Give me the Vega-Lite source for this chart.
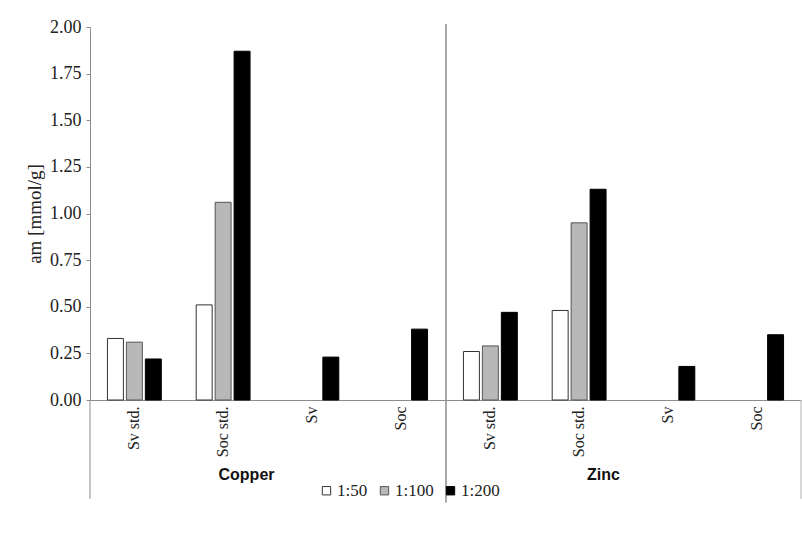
{
  "$schema": "https://vega.github.io/schema/vega-lite/v6.json",
  "background": "white",
  "padding": {"left": 25, "top": 18, "right": 0, "bottom": 0},
  "config": {
    "view": {"stroke": null},
    "font": "Liberation Serif",
    "concat": {"spacing": 0}
  },
  "data": {
    "values": [
      {"metal": "Copper", "sample": "Sv std.", "ratio": "1:50", "value": 0.33},
      {"metal": "Copper", "sample": "Sv std.", "ratio": "1:100", "value": 0.31},
      {"metal": "Copper", "sample": "Sv std.", "ratio": "1:200", "value": 0.22},
      {"metal": "Copper", "sample": "Soc std.", "ratio": "1:50", "value": 0.51},
      {"metal": "Copper", "sample": "Soc std.", "ratio": "1:100", "value": 1.06},
      {"metal": "Copper", "sample": "Soc std.", "ratio": "1:200", "value": 1.87},
      {"metal": "Copper", "sample": "Sv", "ratio": "1:200", "value": 0.23},
      {"metal": "Copper", "sample": "Soc", "ratio": "1:200", "value": 0.38},
      {"metal": "Zinc", "sample": "Sv std.", "ratio": "1:50", "value": 0.26},
      {"metal": "Zinc", "sample": "Sv std.", "ratio": "1:100", "value": 0.29},
      {"metal": "Zinc", "sample": "Sv std.", "ratio": "1:200", "value": 0.47},
      {"metal": "Zinc", "sample": "Soc std.", "ratio": "1:50", "value": 0.48},
      {"metal": "Zinc", "sample": "Soc std.", "ratio": "1:100", "value": 0.95},
      {"metal": "Zinc", "sample": "Soc std.", "ratio": "1:200", "value": 1.13},
      {"metal": "Zinc", "sample": "Sv", "ratio": "1:200", "value": 0.18},
      {"metal": "Zinc", "sample": "Soc", "ratio": "1:200", "value": 0.35}
    ]
  },
  "spacing": 0,
  "resolve": {"scale": {"fill": "shared", "stroke": "shared"}},
  "hconcat": [
    {
      "width": 355,
      "height": 373,
      "layer": [
        {
          "transform": [{"filter": "datum.metal === 'Copper'"}],
          "mark": {"type": "bar", "strokeWidth": 1, "opacity": 1},
          "encoding": {
            "x": {
              "field": "sample", "type": "nominal",
              "scale": {"domain": ["Sv std.", "Soc std.", "Sv", "Soc"], "paddingInner": 0, "paddingOuter": 0},
              "axis": {
                "title": "Copper", "labelAngle": -90, "ticks": false,
                "domainColor": "#8c8c8c", "labelFont": "Liberation Serif", "labelFontSize": 16,
                "labelColor": "#222222", "labelPadding": 6,
                "titleFont": "Liberation Sans", "titleFontWeight": "bold", "titleFontSize": 16,
                "titleColor": "#111111", "titlePadding": 10, "titleX": 156
              }
            },
            "xOffset": {
              "field": "ratio", "type": "nominal",
              "scale": {"domain": ["1:50", "1:100", "1:200"], "paddingInner": 0.158, "paddingOuter": 0.92}
            },
            "y": {
              "field": "value", "type": "quantitative",
              "scale": {"domain": [0, 2], "nice": false},
              "axis": {
                "title": "am [mmol/g]", "values": [0, 0.25, 0.5, 0.75, 1, 1.25, 1.5, 1.75, 2],
                "format": ".2f", "grid": false, "tickSize": 4, "labelPadding": 5,
                "domainColor": "#8c8c8c", "tickColor": "#8c8c8c",
                "labelFont": "Liberation Serif", "labelFontSize": 18, "labelColor": "#222222",
                "titleFont": "Liberation Serif", "titleFontSize": 19, "titleFontWeight": "normal",
                "titleColor": "#222222", "titlePadding": 5
              }
            },
            "fill": {
              "field": "ratio", "type": "nominal",
              "scale": {"domain": ["1:50", "1:100", "1:200"], "range": ["#ffffff", "#b8b8b8", "#000000"]},
              "legend": {
                "title": null, "orient": "none", "legendX": 228, "legendY": 455,
                "direction": "horizontal", "symbolType": "square",
                "symbolSize": 70, "symbolStrokeWidth": 1, "labelFont": "Liberation Serif",
                "labelFontSize": 17, "labelColor": "#222222", "columnPadding": 8, "labelOffset": 2
              }
            },
            "stroke": {
              "field": "ratio", "type": "nominal",
              "scale": {"domain": ["1:50", "1:100", "1:200"], "range": ["#333333", "#555555", "#000000"]},
              "legend": {
                "title": null, "orient": "none", "legendX": 228, "legendY": 455,
                "direction": "horizontal", "symbolType": "square",
                "symbolSize": 70, "symbolStrokeWidth": 1, "labelFont": "Liberation Serif",
                "labelFontSize": 17, "labelColor": "#222222", "columnPadding": 8, "labelOffset": 2
              }
            }
          }
        },
        {
          "data": {"values": [{}]},
          "mark": {"type": "rule", "color": "#8c8c8c", "strokeWidth": 1},
          "encoding": {
            "x": {"datum": "Sv std.", "type": "nominal", "bandPosition": 0},
            "y": {"datum": 0, "type": "quantitative"},
            "y2": {"datum": -0.53}
          }
        }
      ]
    },
    {
      "width": 355,
      "height": 373,
      "layer": [
        {
          "transform": [{"filter": "datum.metal === 'Zinc'"}],
          "mark": {"type": "bar", "strokeWidth": 1, "opacity": 1},
          "encoding": {
            "x": {
              "field": "sample", "type": "nominal",
              "scale": {"domain": ["Sv std.", "Soc std.", "Sv", "Soc"], "paddingInner": 0, "paddingOuter": 0},
              "axis": {
                "title": "Zinc", "labelAngle": -90, "ticks": false,
                "domainColor": "#8c8c8c", "labelFont": "Liberation Serif", "labelFontSize": 16,
                "labelColor": "#222222", "labelPadding": 6,
                "titleFont": "Liberation Sans", "titleFontWeight": "bold", "titleFontSize": 16,
                "titleColor": "#111111", "titlePadding": 10, "titleX": 157
              }
            },
            "xOffset": {
              "field": "ratio", "type": "nominal",
              "scale": {"domain": ["1:50", "1:100", "1:200"], "paddingInner": 0.158, "paddingOuter": 0.92}
            },
            "y": {
              "field": "value", "type": "quantitative",
              "scale": {"domain": [0, 2], "nice": false},
              "axis": null
            },
            "fill": {
              "field": "ratio", "type": "nominal",
              "scale": {"domain": ["1:50", "1:100", "1:200"], "range": ["#ffffff", "#b8b8b8", "#000000"]}
            },
            "stroke": {
              "field": "ratio", "type": "nominal",
              "scale": {"domain": ["1:50", "1:100", "1:200"], "range": ["#333333", "#555555", "#000000"]}
            }
          }
        },
        {
          "data": {"values": [{}]},
          "mark": {"type": "rule", "color": "#555555", "strokeWidth": 1},
          "encoding": {
            "x": {"datum": "Sv std.", "type": "nominal", "bandPosition": 0},
            "y": {"datum": 2.016, "type": "quantitative"},
            "y2": {"datum": -0.55}
          }
        },
        {
          "data": {"values": [{}]},
          "mark": {"type": "rule", "color": "#b0b0b0", "strokeWidth": 1},
          "encoding": {
            "x": {"datum": "Soc", "type": "nominal", "bandPosition": 1},
            "y": {"datum": 0, "type": "quantitative"},
            "y2": {"datum": -0.53}
          }
        }
      ]
    }
  ]
}
